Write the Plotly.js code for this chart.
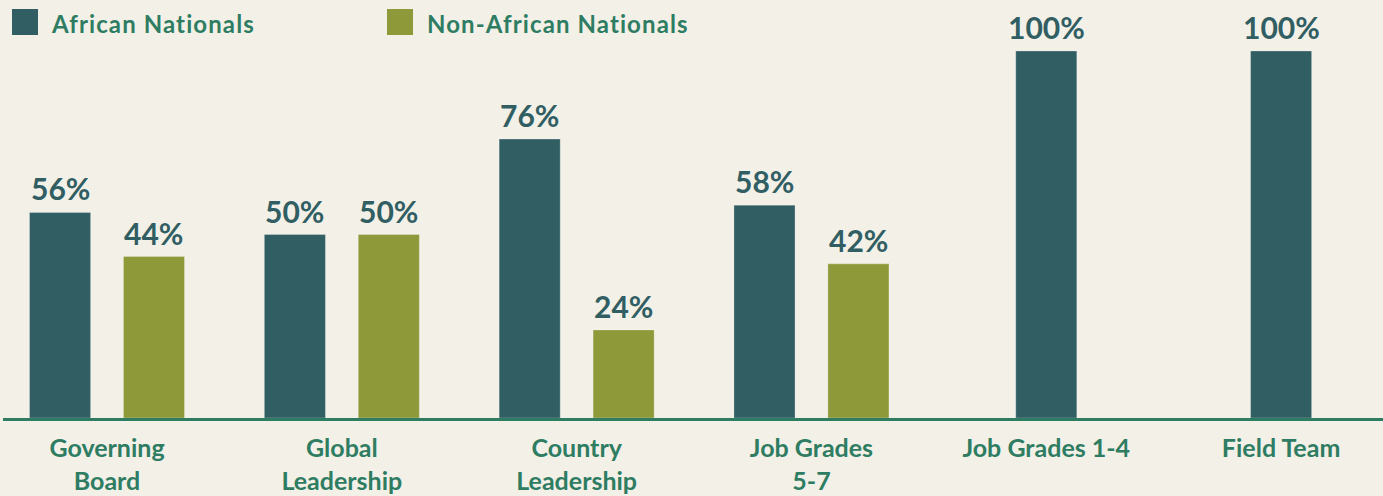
<!DOCTYPE html>
<html>
<head>
<meta charset="utf-8">
<script src="https://cdn.plot.ly/plotly-3.0.1.min.js"></script>
<style>
  html, body { margin: 0; padding: 0; background: #F3F0E8; }
  #chart { width: 1383px; height: 496px; }
</style>
</head>
<body>
<div id="chart"></div>
<script>
// ---- data ----
const categories = ["Governing<br>Board", "Global<br>Leadership", "Country<br>Leadership", "Job Grades<br>5-7", "Job Grades 1-4", "Field Team"];
const african = [56, 50, 76, 58, 100, 100];
const nonAfrican = [44, 50, 24, 42, null, null];
const seriesNames = ["African Nationals", "Non-African Nationals"];

// ---- style ----
const TEAL = "#305E63";
const OLIVE = "#8E9A3A";
const GREEN = "#2E7D62";
const BG = "#F3F0E8";
const BAR_W = 0.26;
const PAIR_SHIFT = 0.2;

const idx = categories.map((_, i) => i);
const paired = nonAfrican.map(v => v !== null && v !== undefined);
const afrCenter = idx.map(i => paired[i] ? -PAIR_SHIFT : 0);
const nonCenter = idx.map(() => PAIR_SHIFT);

const traces = [
  {
    type: "bar", name: seriesNames[0], x: idx, y: african,
    width: BAR_W, offset: afrCenter.map(c => c - BAR_W / 2),
    marker: { color: TEAL, line: { color: "rgba(255,255,255,0.25)", width: 1 } },
    hoverinfo: "skip", showlegend: false
  },
  {
    type: "bar", name: seriesNames[1], x: idx, y: nonAfrican,
    width: BAR_W, offset: nonCenter.map(c => c - BAR_W / 2),
    marker: { color: OLIVE, line: { color: "rgba(255,255,255,0.25)", width: 1 } },
    hoverinfo: "skip", showlegend: false
  }
];

const labelFont = { family: "Lato, sans-serif", size: 30, color: TEAL, weight: 700 };
const annotations = [];
idx.forEach(i => {
  annotations.push({ x: i + afrCenter[i], y: african[i], xref: "x", yref: "y", text: african[i] + "%",
    showarrow: false, yanchor: "bottom", yshift: 4, font: labelFont });
  if (paired[i]) {
    annotations.push({ x: i + nonCenter[i], y: nonAfrican[i], xref: "x", yref: "y", text: nonAfrican[i] + "%",
      showarrow: false, yanchor: "bottom", yshift: 4, font: labelFont });
  }
});

// custom legend
const legendFont = { family: "Lato, sans-serif", size: 24, color: GREEN, weight: 700 };
const px = p => (p - 3) / 1380;
const py = p => (418 - p) / 367;
const shapes = [
  { type: "rect", xref: "paper", yref: "paper", x0: px(12), x1: px(38), y0: py(35), y1: py(9), fillcolor: TEAL, line: { width: 0 } },
  { type: "rect", xref: "paper", yref: "paper", x0: px(387), x1: px(413), y0: py(35), y1: py(9), fillcolor: OLIVE, line: { width: 0 } }
];
annotations.push({ xref: "paper", yref: "paper", x: px(49), y: py(24), xanchor: "left", yanchor: "middle",
  text: seriesNames[0], showarrow: false, font: legendFont });
annotations.push({ xref: "paper", yref: "paper", x: px(425), y: py(24), xanchor: "left", yanchor: "middle",
  text: seriesNames[1], showarrow: false, font: legendFont });

const layout = {
  width: 1383, height: 496,
  paper_bgcolor: BG, plot_bgcolor: BG,
  margin: { l: 3, r: 0, t: 51, b: 78 },
  barmode: "overlay",
  showlegend: false,
  xaxis: {
    range: [-0.443, 5.434], tickmode: "array", tickvals: idx, ticktext: categories,
    showgrid: false, zeroline: false, showline: true, linecolor: GREEN, linewidth: 3,
    ticks: "", ticklabelstandoff: 6,
    tickfont: { family: "Lato, sans-serif", size: 25, color: GREEN, weight: 700 },
    fixedrange: true
  },
  yaxis: { range: [0, 100], visible: false, showgrid: false, zeroline: false, fixedrange: true },
  annotations: annotations,
  shapes: shapes
};

Plotly.newPlot("chart", traces, layout, { displayModeBar: false, staticPlot: true }).then(() => {
  // widen legend labels with letter spacing like the reference, keeping the left edge fixed
  document.querySelectorAll(".annotation-text").forEach(t => {
    if (seriesNames.indexOf(t.textContent) < 0) return;
    const b0 = t.getBBox();
    t.style.letterSpacing = "1.1px";
    const b1 = t.getBBox();
    const dx = b0.x - b1.x;
    t.setAttribute("x", parseFloat(t.getAttribute("x") || 0) + dx);
  });
});
</script>
</body>
</html>
